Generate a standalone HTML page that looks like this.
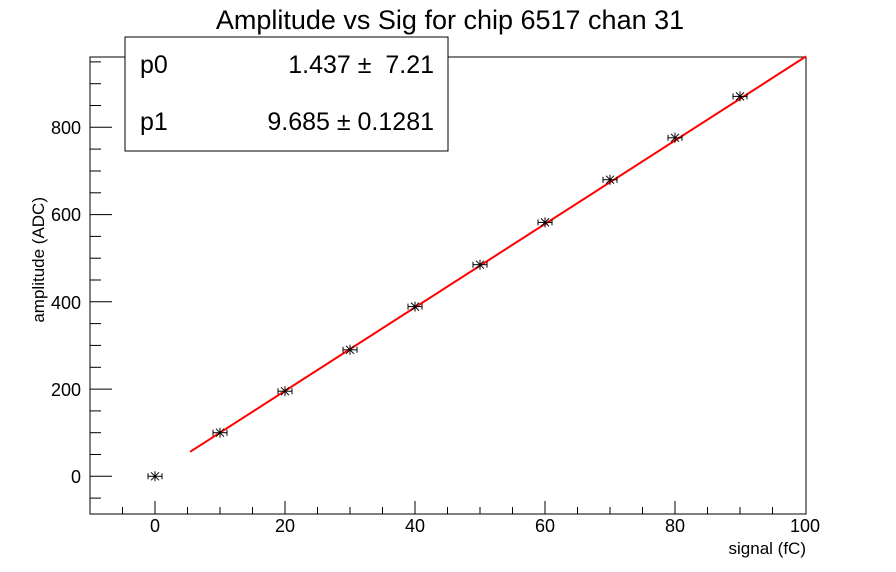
<!DOCTYPE html>
<html><head><style>body{margin:0;background:#fff}svg{display:block;font-family:"Liberation Sans",Arial,sans-serif}</style></head><body>
<svg width="896" height="572" viewBox="0 0 896 572" xmlns="http://www.w3.org/2000/svg" xmlns:xlink="http://www.w3.org/1999/xlink">
<defs>
<g id="m" stroke="#000" stroke-width="1" fill="none">
<line x1="-7" y1="0" x2="7" y2="0"/><line x1="-7" y1="-3" x2="-7" y2="3"/><line x1="7" y1="-3" x2="7" y2="3"/>
<line x1="0" y1="-5" x2="0" y2="5"/><line x1="-4" y1="-4" x2="4" y2="4"/><line x1="-4" y1="4" x2="4" y2="-4"/>
</g>
</defs>
<rect width="896" height="572" fill="#fff"/>
<rect x="90" y="57" width="716" height="457" fill="none" stroke="#000" stroke-width="1"/>
<g stroke="#000" stroke-width="1">
<line x1="122.5" y1="514" x2="122.5" y2="507"/>
<line x1="155" y1="514" x2="155" y2="501"/>
<line x1="187.5" y1="514" x2="187.5" y2="507"/>
<line x1="220" y1="514" x2="220" y2="507"/>
<line x1="252.5" y1="514" x2="252.5" y2="507"/>
<line x1="285" y1="514" x2="285" y2="501"/>
<line x1="317.5" y1="514" x2="317.5" y2="507"/>
<line x1="350" y1="514" x2="350" y2="507"/>
<line x1="382.5" y1="514" x2="382.5" y2="507"/>
<line x1="415" y1="514" x2="415" y2="501"/>
<line x1="447.5" y1="514" x2="447.5" y2="507"/>
<line x1="480" y1="514" x2="480" y2="507"/>
<line x1="512.5" y1="514" x2="512.5" y2="507"/>
<line x1="545" y1="514" x2="545" y2="501"/>
<line x1="577.5" y1="514" x2="577.5" y2="507"/>
<line x1="610" y1="514" x2="610" y2="507"/>
<line x1="642.5" y1="514" x2="642.5" y2="507"/>
<line x1="675" y1="514" x2="675" y2="501"/>
<line x1="707.5" y1="514" x2="707.5" y2="507"/>
<line x1="740" y1="514" x2="740" y2="507"/>
<line x1="772.5" y1="514" x2="772.5" y2="507"/>
<line x1="90" y1="498.1" x2="101" y2="498.1"/>
<line x1="90" y1="476.3" x2="112" y2="476.3"/>
<line x1="90" y1="454.5" x2="101" y2="454.5"/>
<line x1="90" y1="432.7" x2="101" y2="432.7"/>
<line x1="90" y1="410.9" x2="101" y2="410.9"/>
<line x1="90" y1="389.1" x2="112" y2="389.1"/>
<line x1="90" y1="367.3" x2="101" y2="367.3"/>
<line x1="90" y1="345.4" x2="101" y2="345.4"/>
<line x1="90" y1="323.6" x2="101" y2="323.6"/>
<line x1="90" y1="301.8" x2="112" y2="301.8"/>
<line x1="90" y1="280" x2="101" y2="280"/>
<line x1="90" y1="258.2" x2="101" y2="258.2"/>
<line x1="90" y1="236.4" x2="101" y2="236.4"/>
<line x1="90" y1="214.6" x2="112" y2="214.6"/>
<line x1="90" y1="192.8" x2="101" y2="192.8"/>
<line x1="90" y1="171" x2="101" y2="171"/>
<line x1="90" y1="149.1" x2="101" y2="149.1"/>
<line x1="90" y1="127.3" x2="112" y2="127.3"/>
<line x1="90" y1="105.5" x2="101" y2="105.5"/>
<line x1="90" y1="83.7" x2="101" y2="83.7"/>
<line x1="90" y1="61.9" x2="101" y2="61.9"/>
</g>
<text x="450" y="29" font-size="27" text-anchor="middle">Amplitude vs Sig for chip 6517 chan 31</text>
<g font-size="18" text-anchor="middle">
<text x="155" y="532">0</text><text x="285" y="532">20</text><text x="415" y="532">40</text><text x="545" y="532">60</text><text x="675" y="532">80</text><text x="805" y="532">100</text>
</g>
<g font-size="18" text-anchor="end">
<text x="81" y="483">0</text><text x="81" y="396">200</text><text x="81" y="309">400</text><text x="81" y="221">600</text><text x="81" y="134">800</text>
</g>
<text x="806" y="554" font-size="17" text-anchor="end">signal (fC)</text>
<text transform="translate(44,197) rotate(-90)" font-size="17" text-anchor="end">amplitude (ADC)</text>
<line x1="190.1" y1="451.8" x2="806" y2="56.4" stroke="#f00" stroke-width="2"/>
<use xlink:href="#m" x="155" y="476.3"/>
<use xlink:href="#m" x="220" y="432.7"/>
<use xlink:href="#m" x="285" y="391.2"/>
<use xlink:href="#m" x="350" y="349.8"/>
<use xlink:href="#m" x="415" y="306.6"/>
<use xlink:href="#m" x="480" y="264.7"/>
<use xlink:href="#m" x="545" y="222.4"/>
<use xlink:href="#m" x="610" y="179.7"/>
<use xlink:href="#m" x="675" y="137.8"/>
<use xlink:href="#m" x="740" y="96.4"/>
<rect x="125" y="37" width="323" height="114" fill="#fff" stroke="#000" stroke-width="1"/>
<text x="140" y="73" font-size="25">p0</text>
<text x="434" y="73" font-size="25" text-anchor="end">1.437 ± &#160;7.21</text>
<text x="140" y="130" font-size="25">p1</text>
<text x="434" y="130" font-size="25" text-anchor="end">9.685 ± 0.1281</text>
</svg>
</body></html>
